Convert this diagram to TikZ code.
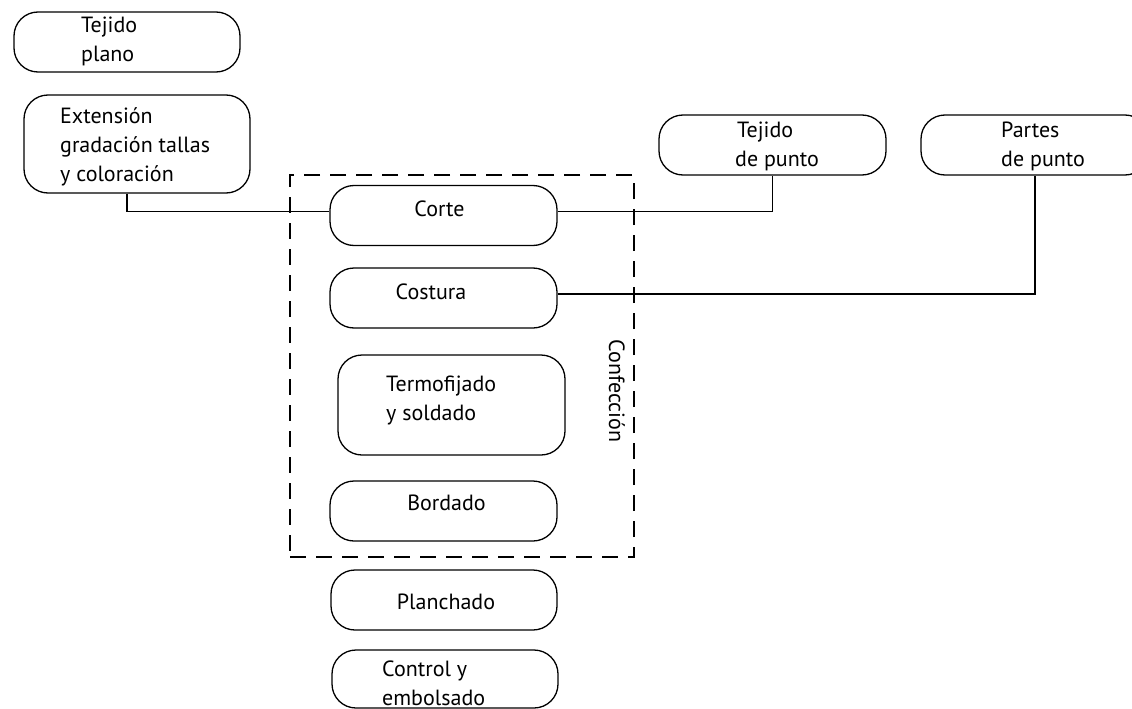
\documentclass[tikz,border=0pt]{standalone}
\usepackage{fontspec}
\setmainfont{PT Sans}
\begin{document}
\begin{tikzpicture}[x=1pt,y=-1pt,
  box/.style={draw, line width=1.3pt, rounded corners=24pt, inner sep=0pt},
  lbl/.style={font=\fontsize{22}{29}\selectfont, inner sep=0pt, align=left},
  conn/.style={line width=1.1pt}]
\useasboundingbox (0,0) rectangle (1132,709);
% boxes
\node[box, minimum width=226pt, minimum height=60pt] (tp) at (127,42) {};
\node[box, minimum width=226pt, minimum height=98pt] (ext) at (137,144) {};
\node[box, minimum width=227pt, minimum height=60pt] (corte) at (443.5,215.5) {};
\node[box, minimum width=227pt, minimum height=60pt] (costura) at (443.5,298) {};
\node[box, minimum width=227pt, minimum height=100pt] (termo) at (451.5,405) {};
\node[box, minimum width=227pt, minimum height=60pt] (bordado) at (443.5,511) {};
\node[box, minimum width=226pt, minimum height=60pt] (planchado) at (444,600) {};
\node[box, minimum width=226pt, minimum height=58pt] (control) at (445,679) {};
\node[box, minimum width=227pt, minimum height=60pt] (tdp) at (772.5,145) {};
\node[box, minimum width=228pt, minimum height=60pt] (pdp) at (1035,145) {};
% dashed group
\node[draw, dashed, dash pattern=on 16pt off 10pt, line width=1.2pt, minimum width=344pt, minimum height=382pt, inner sep=0pt] (grp) at (462,366) {};
\node[lbl, rotate=-90] (conf) at (617,391) {Confección};
% texts
\node[lbl, anchor=west] (ttp) at (81,41) {Tejido\\plano};
\node[lbl, anchor=west] (text) at (60,147) {Extensión\\gradación tallas\\y coloración};
\node[lbl] (tcorte) at (439.5,209) {Corte};
\node[lbl] (tcostura) at (431,292) {Costura};
\node[lbl, anchor=west] (ttermo) at (386,400) {Termofijado\\y soldado};
\node[lbl] (tbordado) at (446.5,503) {Bordado};
\node[lbl] (tplanchado) at (446,602) {Planchado};
\node[lbl, anchor=west] (tcontrol) at (382,683) {Control y\\embolsado};
\node[lbl, anchor=west] (ttdp) at (735,146) {\hspace*{2pt}Tejido\\de punto};
\node[lbl, anchor=west] (tpdp) at (1001,146) {Partes\\de punto};
% connectors
\coordinate (c1) at (127,0);
\draw[conn] (ext.south -| c1) |- ([yshift=4pt]corte.west);
\draw[conn] ([yshift=4pt]corte.east) -| (tdp.south);
\draw[conn] ([yshift=4pt]costura.east) -| (pdp.south);
\end{tikzpicture}
\end{document}
